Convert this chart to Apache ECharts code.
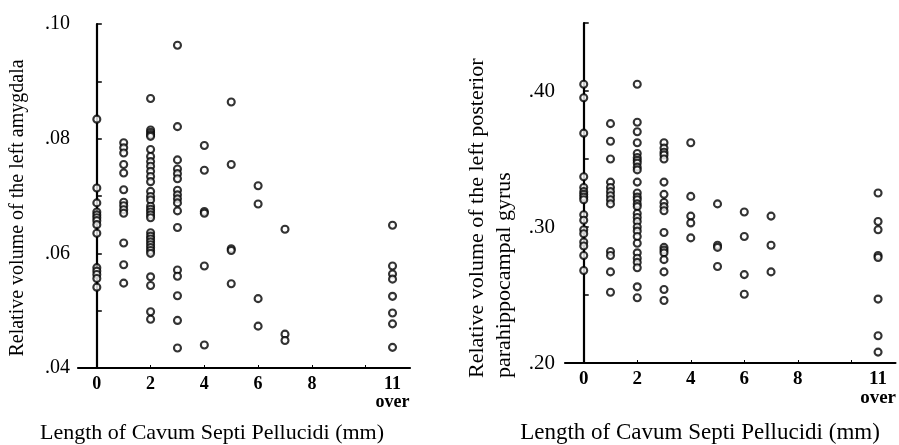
<!DOCTYPE html>
<html>
<head>
<meta charset="utf-8">
<script src="https://cdn.jsdelivr.net/npm/echarts@6/dist/echarts.min.js"></script>
<style>
html,body{margin:0;padding:0;background:#fff;}
#chart{width:899px;height:445px;}
</style>
</head>
<body>
<div id="chart"></div>
<script>
// length of cavum septi pellucidi (mm), 11 = "11 over"
let cspLengths = [0, 1, 2, 3, 4, 5, 6, 7, 11];
let xTickValues = [0, 2, 4, 6, 8, 10];
let xLabelValues = [0, 2, 4, 6, 8, 11];
let leftYLabels = [0.04, 0.06, 0.08, 0.10];
let rightYLabels = [0.20, 0.30, 0.40];

// relative volume of the left amygdala, one list per length
let amygdala = [
    [0.0834, 0.0714, 0.0688, 0.0672, 0.0667, 0.0662, 0.0657, 0.0650, 0.0635, 0.0575, 0.0569, 0.0563, 0.0556, 0.0541],
    [0.0793, 0.0784, 0.0775, 0.0755, 0.0740, 0.0711, 0.0689, 0.0683, 0.0676, 0.0670, 0.0618, 0.0580, 0.0548],
    [0.0870, 0.0815, 0.0811, 0.0807, 0.0804, 0.0781, 0.0769, 0.0760, 0.0752, 0.0743, 0.0734, 0.0725, 0.0708,
     0.0699, 0.0693, 0.0682, 0.0677, 0.0672, 0.0667, 0.0662, 0.0636, 0.0630, 0.0625, 0.0620, 0.0615, 0.0610,
     0.0605, 0.0600, 0.0559, 0.0544, 0.0498, 0.0485],
    [0.0963, 0.0821, 0.0763, 0.0747, 0.0739, 0.0730, 0.0710, 0.0702, 0.0695, 0.0688, 0.0674, 0.0645, 0.0571,
     0.0560, 0.0526, 0.0483, 0.0435],
    [0.0788, 0.0745, 0.0673, 0.0670, 0.0578, 0.0440],
    [0.0864, 0.0755, 0.0608, 0.0605, 0.0547],
    [0.0718, 0.0686, 0.0521, 0.0473],
    [0.0642, 0.0459, 0.0448],
    [0.0649, 0.0578, 0.0564, 0.0555, 0.0525, 0.0496, 0.0477, 0.0436]
];

// relative volume of the left posterior parahippocampal gyrus
let parahippo = [
    [0.405, 0.395, 0.369, 0.337, 0.329, 0.326, 0.324, 0.322, 0.320, 0.309, 0.305, 0.298, 0.295, 0.289, 0.286, 0.279, 0.268],
    [0.376, 0.363, 0.350, 0.333, 0.329, 0.326, 0.323, 0.320, 0.317, 0.282, 0.279, 0.267, 0.252],
    [0.405, 0.377, 0.370, 0.362, 0.354, 0.351, 0.349, 0.347, 0.344, 0.342, 0.333, 0.325, 0.322, 0.320, 0.317,
     0.315, 0.310, 0.307, 0.304, 0.300, 0.297, 0.293, 0.288, 0.281, 0.277, 0.274, 0.270, 0.256, 0.248],
    [0.362, 0.358, 0.355, 0.353, 0.350, 0.333, 0.324, 0.318, 0.315, 0.312, 0.296, 0.285, 0.283, 0.281, 0.276,
     0.267, 0.254, 0.246],
    [0.362, 0.3225, 0.308, 0.303, 0.292],
    [0.317, 0.2866, 0.2850, 0.271],
    [0.311, 0.293, 0.265, 0.2505],
    [0.308, 0.2866, 0.267],
    [0.325, 0.304, 0.298, 0.279, 0.2776, 0.247, 0.220, 0.208]
];

function toPoints(groups) {
    let pts = [];
    for (let i = 0; i < groups.length; i++) {
        for (let j = 0; j < groups[i].length; j++) {
            pts.push([cspLengths[i], groups[i][j]]);
        }
    }
    return pts;
}

let serif = 'Liberation Serif';
let black = '#000';

function xAxisFor(idx, size) {
    return {
        type: 'value',
        gridIndex: idx,
        min: -0.7,
        max: 11.65,
        axisLine: {lineStyle: {color: black, width: 2.2}},
        axisTick: {inside: true, length: 3, customValues: xTickValues, lineStyle: {color: black}},
        splitLine: {show: false},
        axisLabel: {
            customValues: xLabelValues,
            margin: 7,
            color: black,
            fontFamily: serif,
            fontSize: size,
            lineHeight: size,
            fontWeight: 'bold',
            formatter: function (v) {
                return v === 11 ? '11\nover' : String(v);
            }
        }
    };
}

function yAxisFor(idx, min, max, step, labels, margin, size) {
    return {
        type: 'value',
        gridIndex: idx,
        min: min,
        max: max,
        interval: step,
        axisLine: {show: true, lineStyle: {color: black, width: 2.2}},
        axisTick: {show: true, inside: true, length: 5, lineStyle: {color: black, width: 1.5}},
        splitLine: {show: false},
        axisLabel: {
            customValues: labels,
            margin: margin,
            color: black,
            fontFamily: serif,
            fontSize: size,
            formatter: function (v) {
                return '.' + String(Math.round(v * 100)).padStart(2, '0');
            }
        }
    };
}

let dotStyle = {color: '#fff', borderColor: black, borderWidth: 2.1};

let option = {
    animation: false,
    backgroundColor: '#fff',
    grid: [
        {left: 78, top: 24, width: 332, height: 344},
        {left: 565, top: 23, width: 332, height: 340}
    ],
    xAxis: [xAxisFor(0, 18), xAxisFor(1, 19)],
    yAxis: [
        yAxisFor(0, 0.04, 0.10, 0.01, leftYLabels, 8, 20),
        yAxisFor(1, 0.20, 0.45, 0.05, rightYLabels, 10, 21)
    ],
    series: [{
        type: 'scatter',
        xAxisIndex: 0,
        yAxisIndex: 0,
        symbol: 'circle',
        symbolSize: 7,
        itemStyle: dotStyle,
        data: toPoints(amygdala)
    }, {
        type: 'scatter',
        xAxisIndex: 1,
        yAxisIndex: 1,
        symbol: 'circle',
        symbolSize: 7,
        itemStyle: dotStyle,
        data: toPoints(parahippo)
    }],
    graphic: [
        {type: 'text', x: 212, y: 433, style: {text: 'Length of Cavum Septi Pellucidi (mm)', font: '22px "Liberation Serif"', fill: black, textAlign: 'center', textVerticalAlign: 'middle'}},
        {type: 'text', x: 700, y: 433, style: {text: 'Length of Cavum Septi Pellucidi (mm)', font: '23px "Liberation Serif"', fill: black, textAlign: 'center', textVerticalAlign: 'middle'}},
        {type: 'text', x: 18, y: 208, rotation: Math.PI / 2, style: {text: 'Relative volume of the left amygdala', font: '20px "Liberation Serif"', fill: black, textAlign: 'center', textVerticalAlign: 'middle'}},
        {type: 'text', x: 477, y: 378, rotation: Math.PI / 2, style: {text: 'Relative volume of the left posterior', font: '22px "Liberation Serif"', fill: black, textAlign: 'left', textVerticalAlign: 'middle'}},
        {type: 'text', x: 504, y: 378, rotation: Math.PI / 2, style: {text: 'parahippocampal gyrus', font: '22px "Liberation Serif"', fill: black, textAlign: 'left', textVerticalAlign: 'middle'}}
    ]
};

let myChart = echarts.init(document.getElementById('chart'));
myChart.setOption(option);
</script>
</body>
</html>
